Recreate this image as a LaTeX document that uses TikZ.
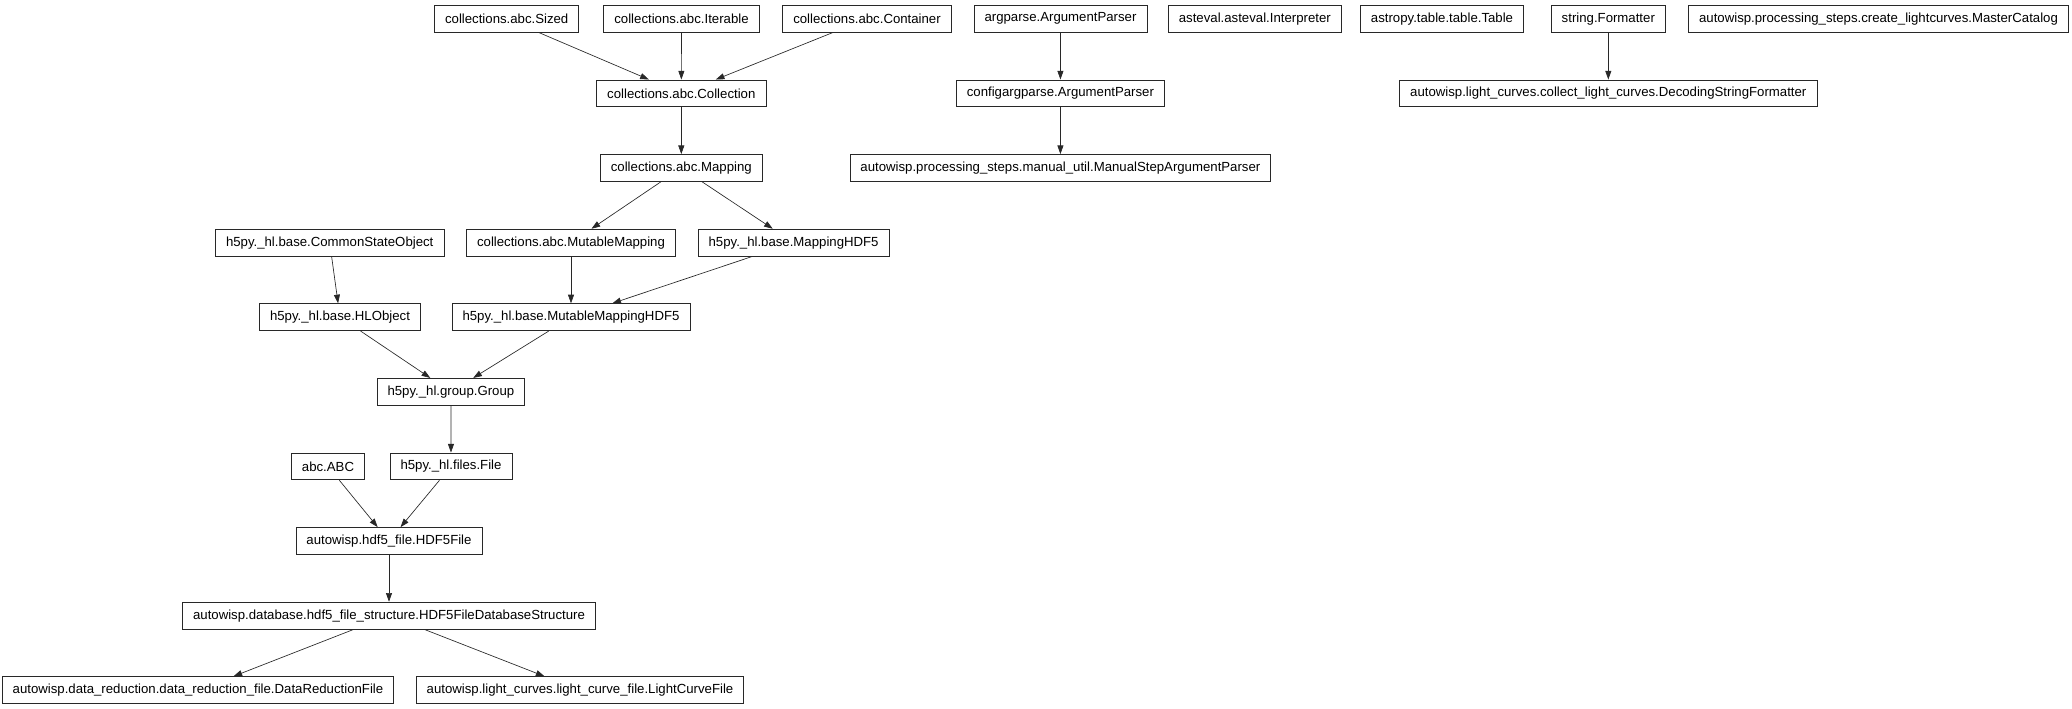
\documentclass[tikz,border=0pt]{standalone}
\usepackage{fontspec}
\setmainfont{Liberation Sans}
\usetikzlibrary{arrows.meta}
\definecolor{edgegray}{RGB}{40,40,40}
\tikzset{
  cls/.style={draw=edgegray,line width=0.6pt,fill=white,inner xsep=7.9pt,inner ysep=0pt,
    minimum height=20.2pt,font=\fontsize{9.9pt}{12pt}\selectfont},
  inherit/.style={draw=edgegray,line width=0.5pt,-{Triangle[length=6.5pt,width=4.5pt]}}
}
\begin{document}
\begin{tikzpicture}[x=0.75pt,y=-0.75pt]
\useasboundingbox (0,0) rectangle (2072,709);
% Top row
\node[cls] (sized) at (506.7,18.8) {collections.abc.Sized};
\node[cls] (iterable) at (681.5,18.8) {collections.abc.Iterable};
\node[cls] (container) at (867,18.8) {collections.abc.Container};
\node[cls] (argparse) at (1060.5,18.8) {argparse.ArgumentParser};
\node[cls] (asteval) at (1254.8,18.8) {asteval.asteval.Interpreter};
\node[cls] (astropy) at (1442,18.8) {astropy.table.table.Table};
\node[cls] (formatter) at (1608.3,18.8) {string.Formatter};
\node[cls] (mastercat) at (1878.5,18.8) {autowisp.processing\_steps.create\_lightcurves.MasterCatalog};
% Second and third rows
\node[cls] (collection) at (681.3,93.4) {collections.abc.Collection};
\node[cls] (configparser) at (1060.4,93.4) {configargparse.ArgumentParser};
\node[cls] (decoding) at (1608.3,93.4) {autowisp.light\_curves.collect\_light\_curves.DecodingStringFormatter};
\node[cls] (mapping) at (681.3,168) {collections.abc.Mapping};
\node[cls] (manualstep) at (1060.4,168) {autowisp.processing\_steps.manual\_util.ManualStepArgumentParser};
% h5py classes
\node[cls] (commonstate) at (329.7,242.6) {h5py.\_hl.base.CommonStateObject};
\node[cls] (mutmapping) at (571,242.6) {collections.abc.MutableMapping};
\node[cls] (mappinghdf) at (793.6,242.6) {h5py.\_hl.base.MappingHDF5};
\node[cls] (hlobject) at (340,317.2) {h5py.\_hl.base.HLObject};
\node[cls] (mutmappinghdf) at (571,317.2) {h5py.\_hl.base.MutableMappingHDF5};
\node[cls] (group) at (450.9,391.8) {h5py.\_hl.group.Group};
\node[cls] (abc) at (328,466.4) {abc.ABC};
\node[cls] (h5file) at (451,466.4) {h5py.\_hl.files.File};
% autowisp files
\node[cls] (hdffile) at (389,541) {autowisp.hdf5\_file.HDF5File};
\node[cls] (dbstruct) at (389,615.6) {autowisp.database.hdf5\_file\_structure.HDF5FileDatabaseStructure};
\node[cls] (datared) at (198,690.2) {autowisp.data\_reduction.data\_reduction\_file.DataReductionFile};
\node[cls] (lightcurve) at (580,690.2) {autowisp.light\_curves.light\_curve\_file.LightCurveFile};
% Inheritance
\draw[inherit] (sized) -- (collection);
\draw[inherit] (iterable) -- (collection);
\draw[inherit] (container) -- (collection);
\draw[inherit] (collection) -- (mapping);
\draw[inherit] (mapping) -- (mutmapping);
\draw[inherit] (mapping) -- (mappinghdf);
\draw[inherit] (commonstate) -- (hlobject);
\draw[inherit] (mutmapping) -- (mutmappinghdf);
\draw[inherit] (mappinghdf) -- (mutmappinghdf);
\draw[inherit] (hlobject) -- (group);
\draw[inherit] (mutmappinghdf) -- (group);
\draw[inherit] (group) -- (h5file);
\draw[inherit] (abc) -- (hdffile);
\draw[inherit] (h5file) -- (hdffile);
\draw[inherit] (hdffile) -- (dbstruct);
\draw[inherit] (dbstruct) -- (datared);
\draw[inherit] (dbstruct) -- (lightcurve);
\draw[inherit] (argparse) -- (configparser);
\draw[inherit] (configparser) -- (manualstep);
\draw[inherit] (formatter) -- (decoding);
\end{tikzpicture}
\end{document}
